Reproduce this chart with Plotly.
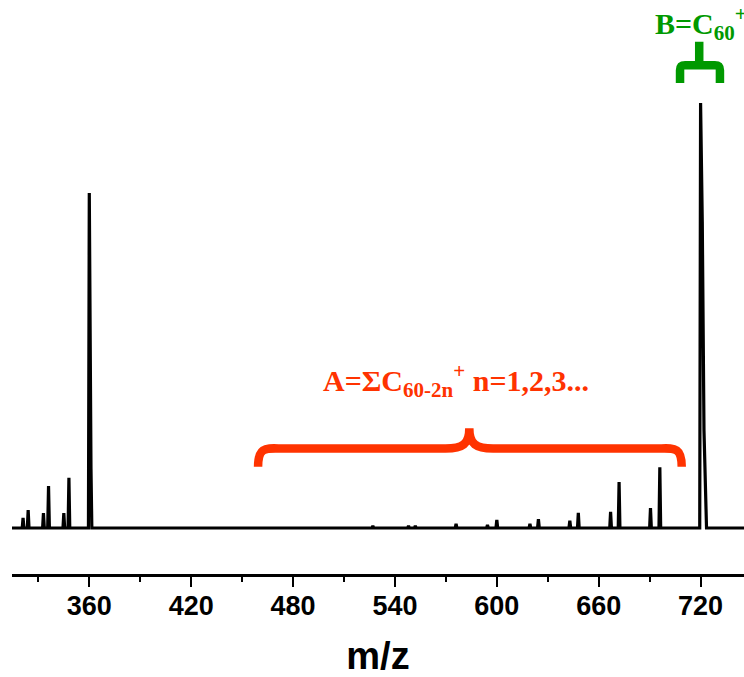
import plotly.graph_objects as go

# Peak list (m/z, relative intensity, 720 peak = 100)
peak_mz = [321.0, 324.0, 333.0, 336.0, 345.0, 348.0, 360.0, 360.5, 361.0,
           527.0, 548.0, 552.0, 576.0, 594.5, 600.0, 619.5, 624.5, 643.0, 648.0,
           667.0, 672.0, 690.5, 696.0, 720.0, 721.0, 722.0, 723.0]
peak_int = [2.4, 4.2, 3.5, 9.9, 3.5, 11.8, 78.8, 40.0, 14.0,
            0.5, 0.5, 0.5, 1.0, 0.7, 1.9, 1.0, 2.1, 1.7, 3.6,
            3.8, 10.8, 4.7, 14.3, 100.0, 72.0, 23.0, 5.0]

x_ticks = [360, 420, 480, 540, 600, 660, 720]
x_minor = [330, 390, 450, 510, 570, 630, 690, 750]
x_range = [314.48, 745.57]
y_range = [-10.82, 124.24]

label_A = "A=ΣC<sub>60-2n</sub><sup>+</sup> n=1,2,3..."
label_B = "B=C<sub>60</sub><sup>+</sup>"
RED = "#FF3300"
GREEN = "#009900"

# build profile line: baseline between separated peaks
xs, ys = [x_range[0]], [0.0]
half = 0.5
for i, (m, h) in enumerate(zip(peak_mz, peak_int)):
    if i == 0 or m - peak_mz[i - 1] > 1.5:
        xs.append(m - half); ys.append(0.0)
    xs.append(m); ys.append(h)
    if i == len(peak_mz) - 1 or peak_mz[i + 1] - m > 1.5:
        xs.append(m + half); ys.append(0.0)
xs.append(x_range[1]); ys.append(0.0)

fig = go.Figure()
fig.add_trace(go.Scatter(x=xs, y=ys, mode="lines",
                         line=dict(color="black", width=3.2), hoverinfo="skip"))

# brace A (data coords)
aL, aR, aT = 459.4, 708.9, 583.8
yb, yh, yt = 14.4, 18.7, 23.5
pathA = (f"M {aL},{yb} C {aL},{yh+0.8} {aL+5},{yh} {aL+16},{yh} "
         f"L {aT-14},{yh} C {aT-4},{yh} {aT},{yh+1} {aT},{yt} "
         f"C {aT},{yh+1} {aT+4},{yh} {aT+14},{yh} "
         f"L {aR-16},{yh} C {aR-5},{yh} {aR},{yh+0.8} {aR},{yb}")
fig.add_shape(type="path", path=pathA, xref="x", yref="y",
              line=dict(color=RED, width=8.5))

# brace B
bL, bR, bT = 707.9, 731.4, 719.2
byb, byh, byt = 104.7, 108.9, 114.4
pathB = (f"M {bL},{byb} L {bL},{byh-1.2} C {bL},{byh} {bL+1.5},{byh} {bL+3},{byh} "
         f"L {bT},{byh} L {bT},{byt} M {bT},{byh} "
         f"L {bR-3},{byh} C {bR-1.5},{byh} {bR},{byh} {bR},{byh-1.2} L {bR},{byb}")
fig.add_shape(type="path", path=pathB, xref="x", yref="y",
              line=dict(color=GREEN, width=8.5))

fig.add_annotation(x=575.8, y=34.8, xref="x", yref="y", text=label_A,
                   showarrow=False, xanchor="center", yanchor="middle",
                   font=dict(family="Liberation Serif, Times New Roman, serif",
                             size=30, color=RED, weight="bold"))
fig.add_annotation(x=692.2, y=118.8, xref="x", yref="y", text=label_B,
                   showarrow=False, xanchor="left", yanchor="middle",
                   font=dict(family="Liberation Serif, Times New Roman, serif",
                             size=30, color=GREEN, weight="bold"))

fig.update_layout(
    width=744, height=677,
    margin=dict(l=12, r=0, t=0, b=103),
    paper_bgcolor="white", plot_bgcolor="white",
    showlegend=False,
    xaxis=dict(range=x_range, tickvals=x_ticks, ticktext=[str(t) for t in x_ticks],
               showline=True, linecolor="black", linewidth=2.5,
               ticks="outside", ticklen=10, tickwidth=2, tickcolor="black",
               ticklabelstandoff=-4,
               minor=dict(tickvals=x_minor, ticks="outside",
                          ticklen=5, tickwidth=2, tickcolor="black"),
               showgrid=False, zeroline=False,
               tickfont=dict(family="Liberation Sans, Arial, sans-serif", size=27,
                             color="black", weight="bold"),
               title=dict(text="m/z", standoff=26,
                          font=dict(family="Liberation Sans, Arial, sans-serif",
                                    size=38, color="black", weight="bold"))),
    yaxis=dict(range=y_range, visible=False, showgrid=False, zeroline=False),
)

fig.write_html("out.html")
